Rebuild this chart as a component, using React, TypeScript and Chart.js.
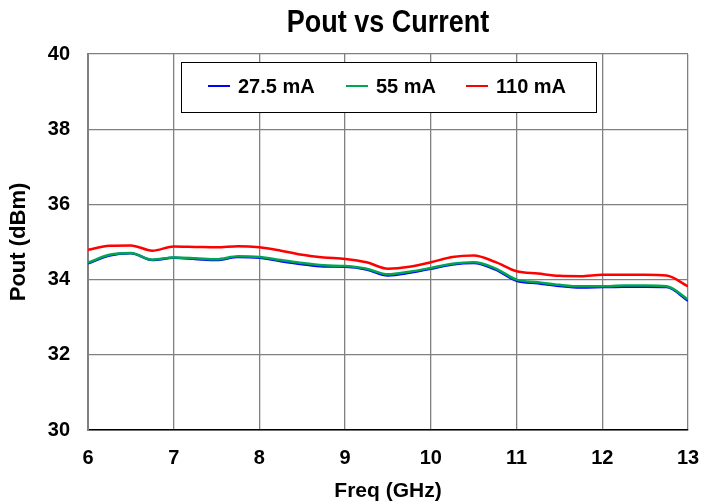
import React, { useEffect, useRef } from "react";
import { Chart, registerables } from "chart.js";

Chart.register(...registerables);

const freq = [6, 6.25, 6.5, 6.75, 7, 7.25, 7.5, 7.75, 8, 8.25, 8.5, 8.75, 9, 9.25, 9.5, 9.75, 10, 10.25, 10.5, 10.75, 11, 11.25, 11.5, 11.75, 12, 12.25, 12.5, 12.75, 13];
const pout110 = [34.79, 34.9, 34.91, 34.77, 34.88, 34.87, 34.86, 34.89, 34.86, 34.77, 34.66, 34.59, 34.55, 34.46, 34.29, 34.34, 34.46, 34.6, 34.64, 34.47, 34.22, 34.16, 34.1, 34.09, 34.13, 34.13, 34.13, 34.11, 33.82];
const pout55 = [34.45, 34.66, 34.71, 34.53, 34.59, 34.57, 34.54, 34.62, 34.6, 34.52, 34.44, 34.38, 34.36, 34.29, 34.14, 34.21, 34.31, 34.42, 34.46, 34.3, 34.0, 33.93, 33.86, 33.82, 33.82, 33.84, 33.84, 33.82, 33.47];
const pout27 = [34.43, 34.64, 34.7, 34.52, 34.58, 34.55, 34.52, 34.6, 34.58, 34.49, 34.41, 34.35, 34.34, 34.27, 34.11, 34.18, 34.29, 34.4, 34.44, 34.27, 33.97, 33.9, 33.83, 33.79, 33.8, 33.81, 33.81, 33.8, 33.44];
const yTicks = [30, 32, 34, 36, 38, 40];
const xTicks = [6, 7, 8, 9, 10, 11, 12, 13];

const seriesLabels = ["27.5 mA", "55 mA", "110 mA"];
const seriesColors = ["#0000ff", "#00a651", "#ff0000"];
const drawOrder = [2, 1, 0];

export default function App() {
  const ref = useRef<HTMLCanvasElement>(null);
  useEffect(() => {
    document.body.style.margin = "0";
    const ctx = ref.current!.getContext("2d")!;
    const values = [pout27, pout55, pout110];
    const font = "Liberation Sans, Arial, sans-serif";
    const overlay = {
      id: "overlay",
      afterDraw(chart: any) {
        const c = chart.ctx;
        const a = chart.chartArea;
        c.save();
        c.fillStyle = "#000";
        c.textAlign = "center";
        c.textBaseline = "middle";
        c.save();
        c.translate((a.left + a.right) / 2, 23);
        c.scale(1, 1.18);
        c.font = `bold 27px ${font}`;
        c.fillText("Pout vs Current", 0, 0);
        c.restore();
        const bx = 181, by = 62, bw = 415, bh = 50;
        c.fillStyle = "#fff";
        c.fillRect(bx, by, bw, bh);
        c.strokeStyle = "#000";
        c.lineWidth = 1;
        c.strokeRect(bx + 0.5, by + 0.5, bw, bh);
        const starts = [208, 346, 466];
        c.font = `bold 20px ${font}`;
        c.textAlign = "left";
        chart.data.datasets.forEach((ds: any, i: number) => {
          const x = starts[i];
          const y = 86;
          c.strokeStyle = ds.borderColor;
          c.lineWidth = 2;
          c.beginPath();
          c.moveTo(x, y);
          c.lineTo(x + 22, y);
          c.stroke();
          c.fillStyle = "#000";
          c.fillText(ds.label, x + 30, y + 1);
        });
        c.restore();
      },
    };
    const chart = new Chart(ctx, {
      type: "line",
      data: {
        datasets: values.map((v, i) => ({
          label: seriesLabels[i],
          data: freq.map((f, j) => ({ x: f, y: v[j] })),
          borderColor: seriesColors[i],
          backgroundColor: seriesColors[i],
          borderWidth: 2.5,
          pointRadius: 0,
          tension: 0.4,
          order: drawOrder[i],
          cubicInterpolationMode: "monotone" as const,
        })),
      },
      options: {
        animation: false,
        responsive: false,
        layout: { padding: { top: 54, right: 16, left: 0, bottom: 0 } },
        plugins: { legend: { display: false }, title: { display: false }, tooltip: { enabled: false } },
        scales: {
          x: {
            type: "linear",
            min: 6,
            max: 13,
            afterBuildTicks: (s: any) => { s.ticks = xTicks.map((v) => ({ value: v })); },
            afterFit: (s: any) => { s.height = 74; s.paddingRight = 0; s.paddingLeft = 0; },
            grid: { color: "#808080", lineWidth: 1.3, drawTicks: false },
            border: { color: "#000", width: 1.5 },
            ticks: { color: "#000", font: { family: font, size: 20, weight: "bold" }, padding: 16, maxRotation: 0 },
            title: { display: true, text: "Freq (GHz)", color: "#000", font: { family: font, size: 21, weight: "bold" }, padding: { top: 0, bottom: 0 } },
          },
          y: {
            min: 30,
            max: 40,
            afterBuildTicks: (s: any) => { s.ticks = yTicks.map((v) => ({ value: v })); },
            afterFit: (s: any) => { s.width = 88; },
            grid: { color: "#808080", lineWidth: 1.3, drawTicks: false },
            border: { color: "#808080", width: 2 },
            ticks: { color: "#000", font: { family: font, size: 20, weight: "bold" }, padding: 18 },
            title: { display: true, text: "Pout (dBm)", color: "#000", font: { family: font, size: 22, weight: "bold" }, padding: { top: 6 } },
          },
        },
      },
      plugins: [overlay],
    });
    return () => chart.destroy();
  }, []);
  return <canvas ref={ref} width={704} height={504} style={{ display: "block" }} />;
}
